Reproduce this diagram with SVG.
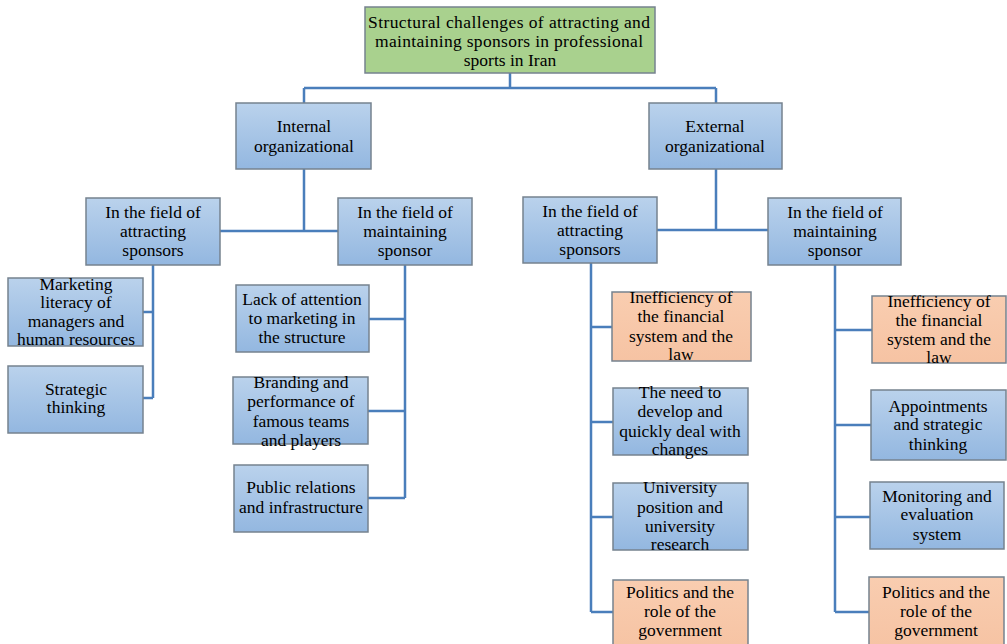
<svg xmlns="http://www.w3.org/2000/svg" width="1007" height="644" viewBox="0 0 1007 644">
<defs>
<linearGradient id="gb" x1="0" y1="0" x2="0" y2="1">
<stop offset="0" stop-color="#bad2ec"/>
<stop offset="1" stop-color="#93b7e0"/>
</linearGradient>
<linearGradient id="go" x1="0" y1="0" x2="0" y2="1">
<stop offset="0" stop-color="#f9cdb0"/>
<stop offset="1" stop-color="#f6c3a3"/>
</linearGradient>
</defs>
<style>
.b{fill:url(#gb);stroke:#76828f;stroke-width:1.5}
.o{fill:url(#go);stroke:#76828f;stroke-width:1.5}
.g{fill:#a9d18e;stroke:#76828f;stroke-width:1.5}
text{font-family:"Liberation Serif","Times New Roman",serif;font-size:17.5px;fill:#000;text-anchor:middle}
.c{fill:none;stroke:#4a7ebb;stroke-width:2.5}
</style>
<rect width="1007" height="644" fill="#fff"/>
<g id="connectors">
<path class="c" d="M510 73V88M304 88H716M304 88V103M716 88V103"/>
<path class="c" d="M304 169V231M220 231H338"/>
<path class="c" d="M716 169V230M657 230H768"/>
<path class="c" d="M153 265V398M143 312H153M143 398H153"/>
<path class="c" d="M405 265V498M369 319H405M368 411H405M368 498H405"/>
<path class="c" d="M591 263V612M591 327H612M591 422H613M591 517H613M591 612H613"/>
<path class="c" d="M835 265V612M835 330H872M835 425H871M835 517H870M835 612H869"/>
</g>
<g id="root"><rect class="g" x="365" y="7" width="290" height="66"/>
<text x="509" y="28" textLength="282" lengthAdjust="spacing">Structural challenges of attracting and</text>
<text x="509" y="47" textLength="268" lengthAdjust="spacing">maintaining sponsors in professional</text>
<text x="510" y="66">sports in Iran</text></g>
<g id="internal"><rect class="b" x="236" y="103" width="135" height="66"/>
<text x="304" y="132">Internal</text><text x="304" y="152">organizational</text></g>
<g id="external"><rect class="b" x="649" y="103" width="133" height="66"/>
<text x="715" y="132">External</text><text x="715" y="152">organizational</text></g>
<g id="int-attract"><rect class="b" x="86" y="198" width="134" height="67"/>
<text x="153" y="218">In the field of</text><text x="153" y="237">attracting</text><text x="153" y="256">sponsors</text></g>
<g id="int-maintain"><rect class="b" x="338" y="198" width="134" height="67"/>
<text x="405" y="218">In the field of</text><text x="405" y="237">maintaining</text><text x="405" y="256">sponsor</text></g>
<g id="ext-attract"><rect class="b" x="523" y="197" width="134" height="66"/>
<text x="590" y="217">In the field of</text><text x="590" y="236">attracting</text><text x="590" y="255">sponsors</text></g>
<g id="ext-maintain"><rect class="b" x="768" y="198" width="133" height="67"/>
<text x="835" y="218">In the field of</text><text x="835" y="237">maintaining</text><text x="835" y="256">sponsor</text></g>
<g id="marketing"><rect class="b" x="8" y="278" width="135" height="68"/>
<text x="76" y="290">Marketing</text><text x="76" y="308">literacy of</text><text x="76" y="327">managers and</text><text x="76" y="345">human resources</text></g>
<g id="strategic"><rect class="b" x="8" y="366" width="135" height="67"/>
<text x="76" y="395">Strategic</text><text x="76" y="413">thinking</text></g>
<g id="lack"><rect class="b" x="236" y="285" width="133" height="67"/>
<text x="302" y="305">Lack of attention</text><text x="302" y="324">to marketing in</text><text x="302" y="343">the structure</text></g>
<g id="branding"><rect class="b" x="233" y="377" width="135" height="67"/>
<text x="301" y="388">Branding and</text><text x="301" y="407">performance of</text><text x="301" y="427">famous teams</text><text x="301" y="446">and players</text></g>
<g id="public"><rect class="b" x="234" y="465" width="134" height="67"/>
<text x="301" y="493">Public relations</text><text x="301" y="513">and infrastructure</text></g>
<g id="ineff1"><rect class="o" x="612" y="292" width="139" height="69"/>
<text x="681" y="303">Inefficiency of</text><text x="681" y="322">the financial</text><text x="681" y="342">system and the</text><text x="681" y="360">law</text></g>
<g id="need"><rect class="b" x="613" y="388" width="135" height="67"/>
<text x="680" y="398">The need to</text><text x="680" y="417">develop and</text><text x="680" y="437">quickly deal with</text><text x="680" y="455">changes</text></g>
<g id="university"><rect class="b" x="613" y="483" width="135" height="67"/>
<text x="680" y="493">University</text><text x="680" y="513">position and</text><text x="680" y="532">university</text><text x="680" y="550">research</text></g>
<g id="politics1"><rect class="o" x="613" y="580" width="135" height="70"/>
<text x="680" y="598">Politics and the</text><text x="680" y="617">role of the</text><text x="680" y="636">government</text></g>
<g id="ineff2"><rect class="o" x="872" y="296" width="134" height="67"/>
<text x="939" y="307">Inefficiency of</text><text x="939" y="326">the financial</text><text x="939" y="345">system and the</text><text x="939" y="363">law</text></g>
<g id="appoint"><rect class="b" x="871" y="390" width="135" height="70"/>
<text x="938" y="412">Appointments</text><text x="938" y="430">and strategic</text><text x="938" y="450">thinking</text></g>
<g id="monitor"><rect class="b" x="870" y="482" width="134" height="67"/>
<text x="937" y="502">Monitoring and</text><text x="937" y="520">evaluation</text><text x="937" y="540">system</text></g>
<g id="politics2"><rect class="o" x="869" y="577" width="135" height="73"/>
<text x="936" y="598">Politics and the</text><text x="936" y="617">role of the</text><text x="936" y="636">government</text></g>
</svg>
